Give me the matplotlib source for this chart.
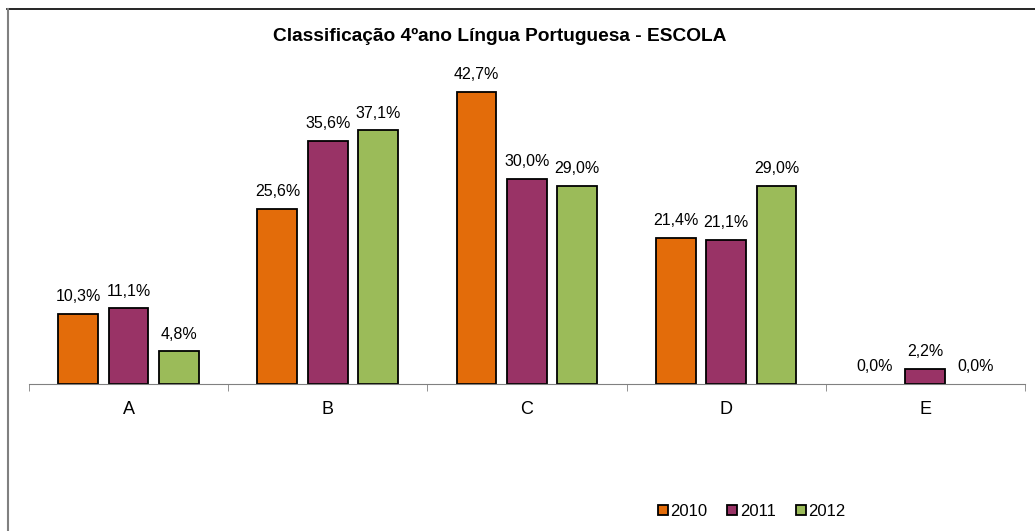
import numpy as np
import matplotlib.pyplot as plt
from matplotlib.lines import Line2D

plt.rcParams['font.family'] = ['Liberation Sans', 'DejaVu Sans']

categories = ['A', 'B', 'C', 'D', 'E']
years = ['2010', '2011', '2012']
v2010 = [10.3, 25.6, 42.7, 21.4, 0.0]
v2011 = [11.1, 35.6, 30.0, 21.1, 2.2]
v2012 = [4.8, 37.1, 29.0, 29.0, 0.0]
colors = ['#E36C0A', '#993366', '#9BBB59']

fig = plt.figure(figsize=(10.35, 5.31), dpi=100)
ax = fig.add_axes([0.028, 0.2768, 0.9623, 0.644])

x = np.arange(len(categories))
w = 0.2
step = 0.253
for i, (vals, yr) in enumerate(zip([v2010, v2011, v2012], years)):
    lws = [1.3 if v > 0 else 0 for v in vals]
    bars = ax.bar(x + (i - 1) * step, vals, w, color=colors[i],
                  edgecolor='black', linewidth=lws, label=yr)
    for b, v in zip(bars, vals):
        ax.text(b.get_x() + b.get_width() / 2, v + 1.4,
                ('%.1f%%' % v).replace('.', ','), ha='center', va='bottom',
                fontsize=11.5)

ax.set_xlim(-0.5, 4.5)
ax.set_ylim(0, 50)
ax.set_xticks(x)
ax.set_xticklabels(categories, fontsize=13)
ax.tick_params(axis='x', length=0, pad=12)
ax.set_xticks(np.arange(-0.5, 5.0, 1), minor=True)
ax.tick_params(axis='x', which='minor', length=5, color='#808080')
ax.set_yticks([])
for s in ['top', 'right', 'left']:
    ax.spines[s].set_visible(False)
ax.spines['bottom'].set_color('#808080')

fig.text(0.483, 0.931, 'Classificação 4ºano Língua Portuguesa - ESCOLA',
         ha='center', va='center', fontsize=13.8, fontweight='bold')

leg = fig.legend(loc='center', bbox_to_anchor=(0.726, 0.037), ncol=3,
                 frameon=False, fontsize=12, handlelength=0.6,
                 handleheight=0.6, handletextpad=0.15, columnspacing=1.2)

fig.add_artist(Line2D([0.0068, 1.0], [0.983, 0.983], color='black', lw=1.2,
                      transform=fig.transFigure))
fig.add_artist(Line2D([0.0075, 0.0075], [0.0, 0.983], color='#808080', lw=1.5,
                      transform=fig.transFigure))

fig.savefig('out.png', dpi=100)
